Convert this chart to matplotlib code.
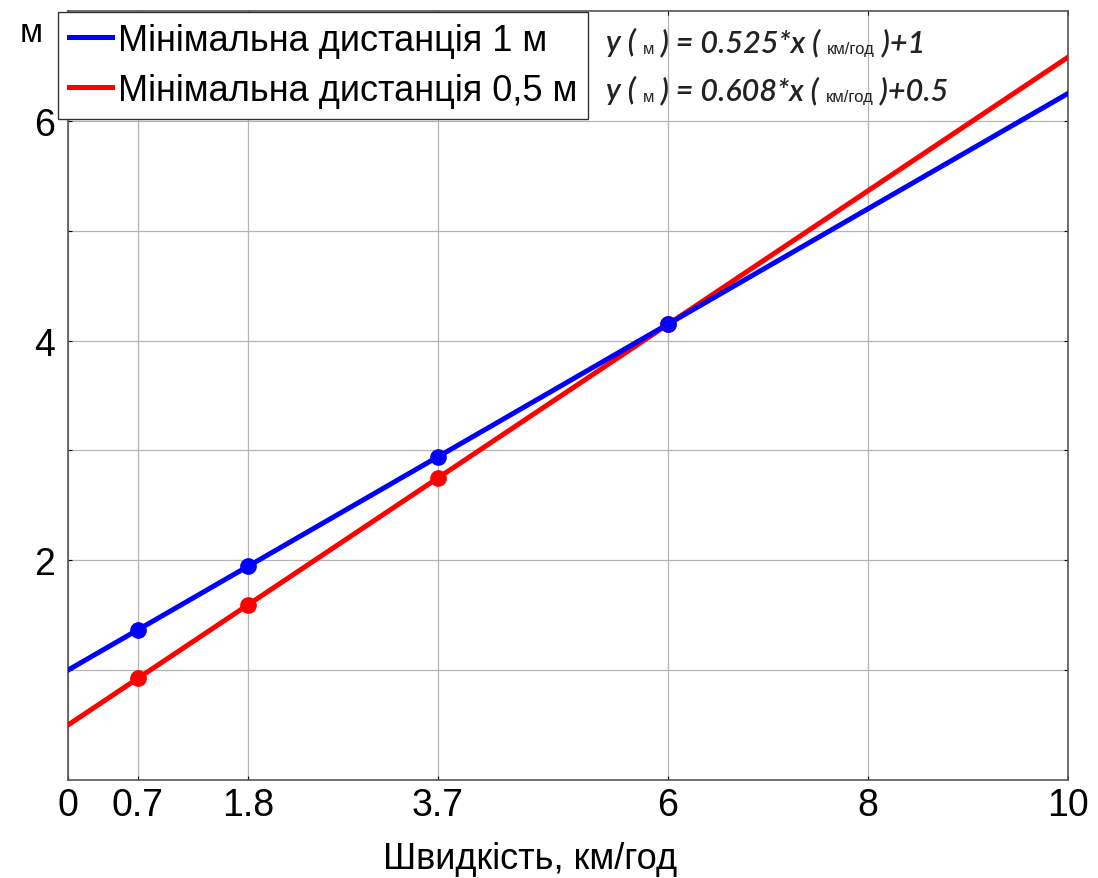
import matplotlib
matplotlib.use("Agg")
import matplotlib.pyplot as plt

# дані
x_line = [0, 10]
x_pts = [0.7, 1.8, 3.7, 6]
k_1m, b_1m = 0.525, 1.0
k_05m, b_05m = 0.608, 0.5
xticks = [0, 0.7, 1.8, 3.7, 6, 8, 10]
xtick_labels = ['0', '0.7', '1.8', '3.7', '6', '8', '10']
yticks_major = [2, 4, 6]
yticks_minor = [1, 3, 5]

y_1m = [k_1m * v + b_1m for v in x_line]
y_05m = [k_05m * v + b_05m for v in x_line]
y_1m_pts = [k_1m * v + b_1m for v in x_pts]
y_05m_pts = [k_05m * v + b_05m for v in x_pts]

plt.rcParams['font.family'] = ['Liberation Sans', 'DejaVu Sans']

fig = plt.figure(figsize=(10.98, 8.79), dpi=100)
ax = fig.add_axes([0.0619, 0.1115, 0.9108, 0.8748])

ax.plot(x_line, y_05m, color='#ff0000', lw=3.6, label='Мінімальна дистанція 0,5 м', zorder=3)
ax.plot(x_line, y_1m, color='#0000ff', lw=3.6, label='Мінімальна дистанція 1 м', zorder=3)
ax.plot(x_pts, y_05m_pts, 'o', color='#ff0000', ms=11, zorder=4)
ax.plot(x_pts, y_1m_pts, 'o', color='#0000ff', ms=11, zorder=4)

ax.set_xlim(0, 10)
ax.set_ylim(0, 7)
ax.set_xticks(xticks)
ax.set_xticklabels(xtick_labels)
ax.set_yticks(yticks_major)
ax.set_yticks(yticks_minor, minor=True)
ax.grid(True, which='both', color='#b5b5b5', lw=0.9)
ax.tick_params(axis='both', which='both', direction='in', length=3, top=True, right=True,
               labelsize=27, width=0.8)
ax.tick_params(axis='x', pad=5)
ax.tick_params(axis='y', pad=9)
for s in ax.spines.values():
    s.set_color('#555555')
    s.set_linewidth(1.2)

fig.text(530 / 1098, 1 - 860 / 879, 'Швидкість, км/год', fontsize=26, ha='center', va='center')
fig.text(0.028, 0.962, 'м', fontsize=24, ha='center', va='center')

handles, labels = ax.get_legend_handles_labels()
leg = ax.legend(handles[::-1], labels[::-1], loc='upper left',
                bbox_to_anchor=(58 / 1098, 1 - 13 / 879), bbox_transform=fig.transFigure,
                fontsize=26, frameon=True, fancybox=False, edgecolor='#333333',
                framealpha=1, handlelength=1.2, handletextpad=0.15, borderpad=0.3,
                labelspacing=0.42, borderaxespad=0)
leg.get_frame().set_linewidth(1.0)

# рівняння: великі частини курсивом, одиниці дрібним прямим шрифтом
big_font = dict(family=['Lato', 'DejaVu Sans'], style='italic', weight='semibold', color='#222222')
small_font = dict(family=['Liberation Sans', 'DejaVu Sans'], style='normal', color='#222222')
rows = [
    (1 - 52 / 879, ['y ( ', 'м', ' ) = 0.525*x ( ', 'км/год', ' )+1']),
    (1 - 100 / 879, ['y ( ', 'м', ' ) = 0.608*x ( ', 'км/год', ' )+0.5']),
]
sizes = [22, 12, 22, 12, 22]
for ypos, parts in rows:
    prev = fig.text(606 / 1098, ypos, parts[0], fontsize=sizes[0], va='baseline', **big_font)
    for part, sz in zip(parts[1:], sizes[1:]):
        style = small_font if sz < 20 else big_font
        prev = ax.annotate(part, xy=(1, 0), xycoords=prev, va='bottom', ha='left',
                           fontsize=sz, annotation_clip=False, **style)

fig.savefig('out.png', dpi=100)
